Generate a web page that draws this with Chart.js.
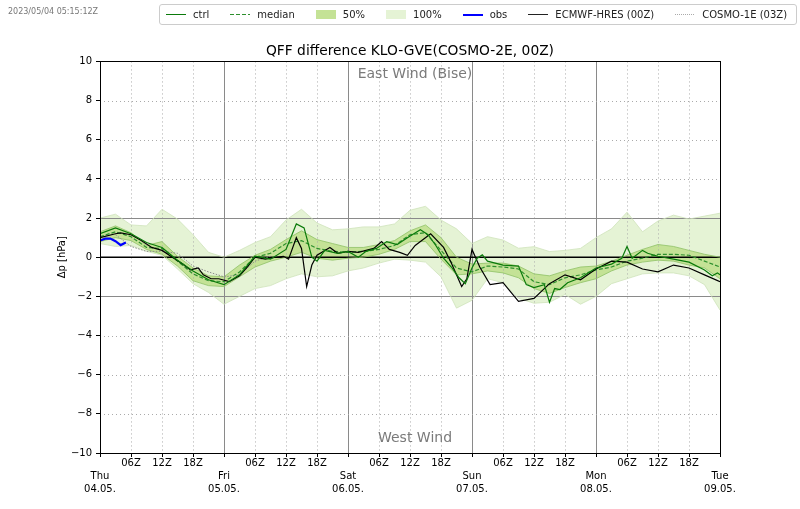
<!DOCTYPE html>
<html><head><meta charset="utf-8">
<script src="https://cdn.jsdelivr.net/npm/chart.js@4.4.0/dist/chart.umd.min.js"></script>
<style>
html,body{margin:0;padding:0;background:#fff;}
#wrap{position:relative;width:800px;height:509px;font-family:"DejaVu Sans",sans-serif;}
#c{position:absolute;left:0;top:0;width:800px;height:509px;}
#stamp{position:absolute;left:8px;top:7px;font-size:8px;color:#777;white-space:nowrap;}
#legend{position:absolute;left:159px;top:4px;width:638px;height:21px;border:1px solid #ccc;border-radius:3px;box-sizing:border-box;display:flex;align-items:center;gap:21px;padding-left:6px;font-size:10px;color:#222;white-space:nowrap;}
.item{display:flex;align-items:center;}
.sym{width:20px;margin-right:7px;}
</style></head>
<body>
<div id="wrap">
<canvas id="c" width="800" height="509"></canvas>
<div id="stamp">2023/05/04 05:15:12Z</div>
<div id="legend"></div>
</div>
<script>
// ---------- data (hours since Thu 04.05. 00Z) ----------
const ensHours = [0,3,6,9,12,15,18,21,24,27,30,33,36,39,42,45,48,51,54,57,60,63,66,69,72,75,78,81,84,87,90,93,96,99,102,105,108,111,114,117,120];
const p100 = [2.0,2.2,1.65,1.6,2.45,1.95,1.15,0.25,0.0, 0.35,0.75,1.05,1.9,2.45,1.75,1.4,1.45, 1.55,1.55,1.7,2.4,2.6,1.9,1.45,0.7, 1.05,0.88,0.46,0.54,0.29,0.35,0.45,1.0, 1.45,2.3,1.3,1.85,2.15,1.95,2.1,2.25];
const p0   = [0.7,0.55,0.6,0.3,0.1,-0.6,-1.35,-1.8,-2.4, -2.0,-1.6,-1.45,-1.1,-0.85,-1.0,-0.95,-0.7, -0.55,-0.3,-0.1,-0.15,-0.25,-1.0,-2.6,-2.2, -1.1,-1.3,-2.1,-2.35,-2.3,-1.9,-2.4,-2.0, -1.35,-1.1,-0.85,-0.8,-0.8,-0.95,-1.4,-2.7];
const p75  = [1.3,1.6,1.25,0.6,0.8,0.05,-0.55,-0.95,-1.0, -0.4,0.1,0.4,0.9,1.35,0.9,0.7,0.5, 0.5,0.65,0.85,1.35,1.65,1.0,0.0,-0.35, -0.3,-0.3,-0.45,-0.85,-0.95,-0.7,-0.5,-0.45, -0.2,0.1,0.4,0.65,0.55,0.35,0.15,0.0];
const p25  = [0.8,1.0,0.85,0.4,0.15,-0.45,-1.2,-1.45,-1.5, -1.0,-0.5,-0.2,0.0,0.25,-0.05,-0.15,-0.05, 0.0,0.15,0.4,0.8,0.8,-0.1,-0.9,-0.85, -0.7,-0.8,-1.05,-1.6,-1.85,-1.55,-1.3,-1.1, -0.7,-0.4,-0.25,-0.15,-0.2,-0.4,-0.55,-1.1];
const median = [1.05,1.3,1.05,0.5,0.45,-0.2,-0.85,-1.2,-1.25, -0.75,0.0,0.2,0.7,0.85,0.45,0.3,0.25, 0.3,0.4,0.6,1.15,1.25,0.35,-0.55,-0.75, -0.45,-0.5,-0.6,-1.25,-1.4,-1.05,-0.9,-0.65, -0.5,-0.2,-0.05,0.15,0.15,0.1,-0.2,-0.5];

const ctrlHours = [0,3,6,9,12,15,18,21,24,27,30,33,36,38,39.5,41,42,43.5,46,48,50,51.5,53.5,55.5,57.5,59.5,62,63.5,65,66.5,68,69.5,70.7,72,73,74,75,78,81,82.5,84,86,87,88,89,90.5,93,96,99,101,102,103,105,106,108,111,114,117,118.5,119.5,120];
const ctrlVals  = [1.2,1.5,1.2,0.75,0.5,-0.15,-0.7,-1.15,-1.4,-0.9,0.05,-0.1,0.4,1.7,1.5,0.0,-0.2,0.35,0.2,0.3,0.0,0.3,0.45,0.8,0.65,1.0,1.4,1.15,0.6,-0.05,-0.5,-1.05,-1.35,-0.55,-0.05,0.12,-0.2,-0.4,-0.45,-1.4,-1.55,-1.4,-2.3,-1.6,-1.65,-1.3,-1.05,-0.55,-0.35,-0.05,0.55,-0.05,0.35,0.2,0.05,-0.1,-0.25,-0.65,-0.95,-0.8,-0.9];

const ecHours = [0,3,4,6,8,10,12,14,16,17.5,19,20,21.5,23,25,27,28.5,30,32,34,35.5,36.5,38,39,40,41,42,44.5,46,48,50,53,54.5,56,58,59.5,61,64,66.5,68,70,71,72,73.5,75.5,78,81,84,87,90,93,96,99,102,105,108,111,114,117,120];
const ecVals  = [1.0,1.2,1.24,1.15,0.85,0.5,0.35,0.0,-0.35,-0.65,-0.55,-0.9,-1.1,-1.1,-1.25,-0.95,-0.5,0.0,-0.1,0.0,0.05,-0.1,1.0,0.45,-1.5,-0.4,0.1,0.5,0.2,0.3,0.25,0.45,0.8,0.4,0.25,0.1,0.6,1.2,0.5,-0.3,-1.5,-1.1,0.4,-0.5,-1.4,-1.3,-2.25,-2.1,-1.35,-0.9,-1.15,-0.6,-0.2,-0.25,-0.6,-0.75,-0.4,-0.55,-0.9,-1.25];

const c1Hours = [3,6,9,12,15,18,21,24,27,30,33];
const c1Vals  = [1.15,0.55,0.3,0.3,0.2,-0.45,-0.75,-1.0,-0.9,-0.2,0.05];

const obsHours = [0,1,2,3,4,5];
const obsVals  = [0.85,0.95,0.95,0.82,0.62,0.75];

const dayNames = ['Thu','Fri','Sat','Sun','Mon','Tue'];
const dayDates = ['04.05.','05.05.','06.05.','07.05.','08.05.','09.05.'];
const hourLabels = ['','06Z','12Z','18Z'];

// ---------- legend (HTML) ----------
const legendItems = [
  {text:'ctrl', kind:'line', color:'#0a7a0a'},
  {text:'median', kind:'dash', color:'#2d8f2d'},
  {text:'50%', kind:'box', color:'#c4e296'},
  {text:'100%', kind:'box', color:'#e5f3d5'},
  {text:'obs', kind:'line', color:'#0000ff', w:2},
  {text:'ECMWF-HRES (00Z)', kind:'line', color:'#222'},
  {text:'COSMO-1E (03Z)', kind:'dot', color:'#aaa'}
];
const lg = document.getElementById('legend');
legendItems.forEach(it=>{
  const d = document.createElement('div'); d.className='item';
  const s = document.createElement('span'); s.className='sym';
  if (it.kind==='box'){ s.style.height='9px'; s.style.background=it.color; }
  else if (it.kind==='line'){ s.style.height=(it.w||1.3)+'px'; s.style.background=it.color; }
  else if (it.kind==='dash'){ s.style.height='1.3px'; s.style.background='repeating-linear-gradient(90deg,'+it.color+' 0 4px,transparent 4px 6px)'; }
  else { s.style.height='1px'; s.style.background='repeating-linear-gradient(90deg,'+it.color+' 0 1px,transparent 1px 2px)'; }
  const t = document.createElement('span'); t.textContent = it.text;
  d.appendChild(s); d.appendChild(t); lg.appendChild(d);
});

// ---------- chart ----------
Chart.defaults.font.family = '"DejaVu Sans", sans-serif';
const pts = (hs, vs) => hs.map((h,i)=>({x:h, y:vs[i]}));

const decor = {
  id:'decor',
  beforeDatasetsDraw(chart){
    const {ctx, chartArea:a, scales:{x, y}} = chart;
    ctx.save();
    ctx.beginPath(); ctx.rect(a.left, a.top, a.right-a.left, a.bottom-a.top); ctx.clip();
    ctx.lineWidth = 1;
    x.ticks.forEach(t=>{
      const px = Math.round(x.getPixelForValue(t.value)) + 0.5;
      const major = t.value % 24 === 0;
      ctx.beginPath();
      ctx.setLineDash(major ? [] : [1,3]);
      ctx.strokeStyle = major ? '#8a8a8a' : '#aaaaaa';
      ctx.moveTo(px, a.top); ctx.lineTo(px, a.bottom); ctx.stroke();
    });
    y.ticks.forEach(t=>{
      const v = t.value;
      if (v === 0) return;
      const py = Math.round(y.getPixelForValue(v)) + 0.5;
      const solid = Math.abs(v) === 2;
      ctx.beginPath();
      ctx.setLineDash(solid ? [] : [1,3]);
      ctx.strokeStyle = solid ? '#8a8a8a' : '#aaaaaa';
      ctx.moveTo(a.left, py); ctx.lineTo(a.right, py); ctx.stroke();
    });
    const pz = y.getPixelForValue(0);
    ctx.setLineDash([]); ctx.strokeStyle = '#000'; ctx.lineWidth = 1.5;
    ctx.beginPath(); ctx.moveTo(a.left, pz); ctx.lineTo(a.right, pz); ctx.stroke();
    ctx.restore();
  },
  afterDatasetsDraw(chart){
    const {ctx, chartArea:a} = chart;
    ctx.save();
    ctx.strokeStyle = '#000'; ctx.lineWidth = 1; ctx.setLineDash([]);
    ctx.strokeRect(Math.round(a.left)+0.5, Math.round(a.top)+0.5, Math.round(a.right-a.left), Math.round(a.bottom-a.top));
    ctx.fillStyle = '#7a7a7a';
    ctx.font = '14px "DejaVu Sans"';
    ctx.textAlign = 'center'; ctx.textBaseline = 'middle';
    const cx = (a.left + a.right)/2 + 5;
    ctx.fillText('East Wind (Bise)', cx, a.top + 13);
    ctx.fillText('West Wind', cx, a.bottom - 15);
    ctx.restore();
  }
};

new Chart(document.getElementById('c'), {
  type:'line',
  data:{datasets:[
    {label:'obs', data:pts(obsHours, obsVals), borderColor:'#0000ff', borderWidth:2.2, order:1},
    {label:'ctrl', data:pts(ctrlHours, ctrlVals), borderColor:'#0a7a0a', borderWidth:1.2, order:2},
    {label:'ECMWF-HRES (00Z)', data:pts(ecHours, ecVals), borderColor:'#000000', borderWidth:1.2, order:3},
    {label:'COSMO-1E (03Z)', data:pts(c1Hours, c1Vals), borderColor:'#8c8c8c', borderWidth:1, borderDash:[1.5,1.5], order:4},
    {label:'median', data:pts(ensHours, median), borderColor:'#2d8f2d', borderWidth:1.2, borderDash:[4,2], order:5},
    {label:'p25', data:pts(ensHours, p25), borderColor:'#8fc267', borderWidth:0.8, fill:false, order:8},
    {label:'50%', data:pts(ensHours, p75), borderColor:'#8fc267', borderWidth:0.8, backgroundColor:'#c4e296', fill:5, order:8},
    {label:'p0', data:pts(ensHours, p0), borderColor:'#cfe3bb', borderWidth:0.8, fill:false, order:10},
    {label:'100%', data:pts(ensHours, p100), borderColor:'#cfe3bb', borderWidth:0.8, backgroundColor:'#e5f3d5', fill:7, order:10}
  ]},
  options:{
    responsive:false, animation:false, devicePixelRatio:1,
    elements:{point:{radius:0}, line:{tension:0}},
    layout:{padding:0},
    plugins:{
      legend:{display:false}, tooltip:{enabled:false},
      filler:{drawTime:'beforeDraw'},
      title:{display:true, fullSize:false, text:'QFF difference KLO-GVE(COSMO-2E, 00Z)', color:'#000',
        font:{size:13.8, weight:'normal', lineHeight:1.2}, padding:{top:42.7, bottom:2.2}}
    },
    scales:{
      x:{type:'linear', min:0, max:120,
        afterFit(s){ s.height = 56; },
        ticks:{stepSize:6, autoSkip:false, maxRotation:0, minRotation:0, padding:0, color:'#000',
          font:{size:10, lineHeight:1.3},
          callback(v){ if (v % 24 === 0){ const d = v/24; return ['', dayNames[d], dayDates[d]]; } return hourLabels[(v % 24)/6]; }},
        grid:{drawOnChartArea:false, drawTicks:true, tickLength:4, tickColor:'#000', tickWidth:1},
        border:{display:false}
      },
      y:{type:'linear', min:-10, max:10,
        afterFit(s){ s.width = 100; },
        ticks:{stepSize:2, padding:4, color:'#000', font:{size:10},
          callback(v){ return v < 0 ? '\u2212' + (-v) : String(v); }},
        grid:{drawOnChartArea:false, drawTicks:true, tickLength:4, tickColor:'#000', tickWidth:1},
        border:{display:false},
        title:{display:true, text:'\u0394p [hPa]', color:'#000', font:{size:10}, padding:{top:56, bottom:0}}
      },
      yR:{type:'linear', position:'right', min:0, max:1, display:true,
        afterFit(s){ s.width = 80; },
        ticks:{display:false}, grid:{display:false}, border:{display:false}}
    }
  },
  plugins:[decor]
});
</script>
</body></html>
